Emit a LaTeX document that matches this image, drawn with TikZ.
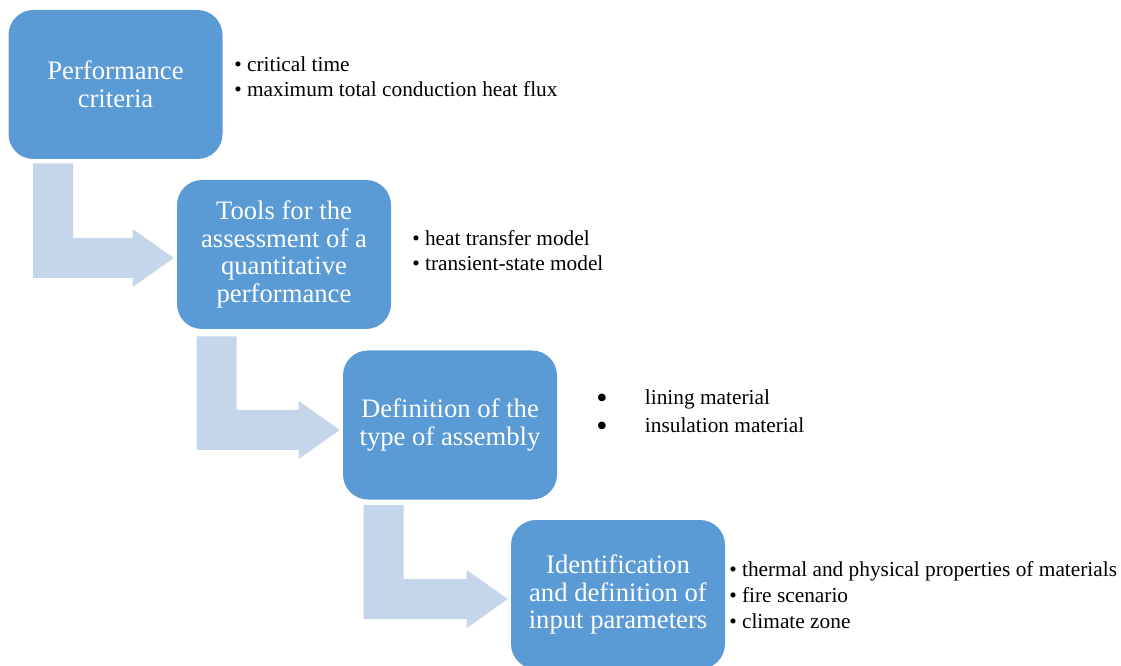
\documentclass[tikz,border=0pt]{standalone}
\usepackage{fontspec}
\setmainfont{Liberation Serif}
\usetikzlibrary{calc}
\definecolor{boxblue}{HTML}{5B9BD5}
\definecolor{arrowblue}{HTML}{C5D5EA}
\tikzset{
  stage/.style={fill=boxblue, rounded corners=18.75pt, minimum width=160.5pt,
    minimum height=111.75pt, text=white, align=center,
    font=\fontsize{20}{20.8}\selectfont, inner sep=0pt},
  conn/.style={fill=arrowblue},
  notes/.style={anchor=base west, inner sep=0pt,
    font=\fontsize{16}{18.4}\selectfont, text=black},
}
\newcommand\bentarrow[2]{%
  \fill[conn] let \p1=(#1), \p2=(#2) in
    (\x1-15pt,\y1) -- (\x1+15pt,\y1) -- (\x1+15pt,\y2+15pt)
    -- (\x2-30.75pt,\y2+15pt) -- (\x2-30.75pt,\y2+21.75pt) -- (\x2,\y2)
    -- (\x2-30.75pt,\y2-21.75pt) -- (\x2-30.75pt,\y2-15pt)
    -- (\x1-15pt,\y2-15pt) -- cycle;}
\newcommand\bigbul{\smash{\raisebox{-2.5pt}{\scalebox{1.5}{\textbullet}}}}
\begin{document}
\begin{tikzpicture}[x=0.75pt,y=-0.75pt]
\useasboundingbox (0,0) rectangle (1121,666);
% stages
\node[stage] (b1) at (115.5,84.5) {Performance\\criteria};
\node[stage] (b2) at (284,254.5) {Tools for the\\assessment of a\\quantitative\\performance};
\node[stage] (b3) at (450,425) {Definition of the\\type of assembly};
\node[stage] (b4) at (618,594.5) {Identification\\and definition of\\input parameters};
% connectors
\coordinate (a1s) at ($(b1.south west)+(45,4)$);
\coordinate (a1e) at ($(b2.west)+(-3,3.5)$);
\coordinate (a2s) at ($(b2.south west)+(40,7)$);
\coordinate (a2e) at ($(b3.west)+(-3,5)$);
\coordinate (a3s) at ($(b3.south west)+(41,5)$);
\coordinate (a3e) at ($(b4.west)+(-3,4.5)$);
\bentarrow{a1s}{a1e}
\bentarrow{a2s}{a2e}
\bentarrow{a3s}{a3e}
% notes
\node[notes] (n1) at (234,72) {\begin{tabular}[t]{@{}l@{}}
  \textbullet\ critical time\\
  \textbullet\ maximum total conduction heat flux\end{tabular}};
\node[notes] (n2) at (412,246) {\begin{tabular}[t]{@{}l@{}}
  \textbullet\ heat transfer model\\
  \textbullet\ transient-state model\end{tabular}};
\node[notes] (n3) at (596,405) {\def\arraystretch{1.14}\begin{tabular}[t]{@{}l@{}}
  \makebox[36.5pt][l]{\bigbul}lining material\\
  \makebox[36.5pt][l]{\bigbul}insulation material\end{tabular}};
\node[notes] (n4) at (729,576) {\def\arraystretch{1.06}\begin{tabular}[t]{@{}l@{}}
  \textbullet\ thermal and physical properties of materials\\
  \textbullet\ fire scenario\\
  \textbullet\ climate zone\end{tabular}};
\end{tikzpicture}
\end{document}
